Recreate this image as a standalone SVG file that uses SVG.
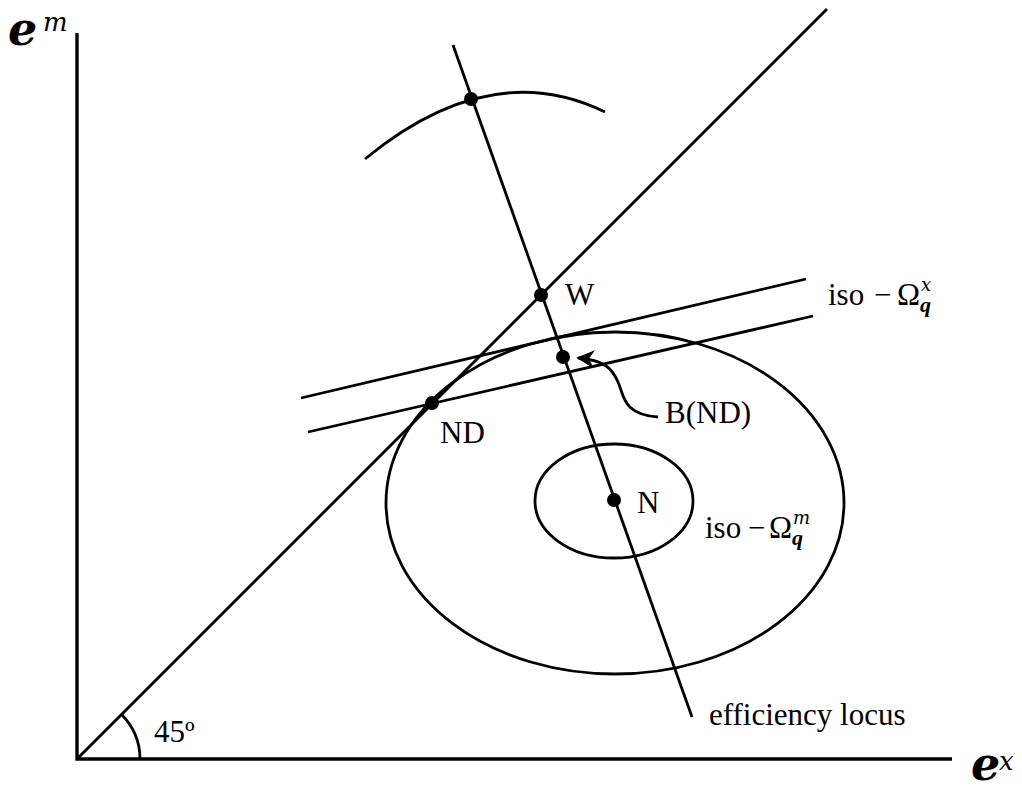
<svg xmlns="http://www.w3.org/2000/svg" width="1022" height="789" viewBox="0 0 1022 789">
<style>
  .ln{fill:none;stroke:#000;stroke-width:2.8;stroke-linecap:butt}
  .ax{fill:none;stroke:#000;stroke-width:3.4}
  .dot{fill:#000}
  .lbl{font-family:"Liberation Serif","Times New Roman",serif;font-size:31px;fill:#000}
  .mth{font-family:"DejaVu Serif","Liberation Serif",serif;font-weight:bold;font-style:italic;fill:#000}
  .sup{font-family:"DejaVu Serif","Liberation Serif",serif;font-style:italic;fill:#000}
  .sub{font-family:"Liberation Serif","Times New Roman",serif;font-weight:bold;font-style:italic;fill:#000}
</style>
<defs>
  <marker id="ah" viewBox="0 0 10 10" refX="9" refY="5" markerWidth="6.5" markerHeight="6.5" markerUnits="strokeWidth" orient="auto">
    <path d="M0,0 L10,5 L0,10 L3,5 Z" fill="#000"/>
  </marker>
</defs>
<rect width="1022" height="789" fill="#fff"/>

<g id="axes">
  <path class="ax" d="M77,33 V759 H952"/>
  <text class="mth" x="8" y="45" font-size="46">e</text>
  <text class="sup" x="43" y="31" font-size="26">m</text>
  <text class="mth" x="971" y="780" font-size="46">e</text>
  <text class="sup" x="999" y="770" font-size="26">x</text>
</g>

<g id="connectors">
  <path id="line45" class="ln" d="M77,759 L827,9"/>
  <path id="angle" class="ln" d="M140,759 A63,63 0 0 0 121.5,714.5"/>
  <path id="efficiency-locus" class="ln" d="M453,45 L692,717"/>
  <path id="upper-curve" class="ln" d="M365,159 Q490,56 605,112"/>
  <path id="iso-x-1" class="ln" d="M301,398 L806,279"/>
  <path id="iso-x-2" class="ln" d="M308,432 L813,316"/>
  <path id="bnd-arrow" class="ln" d="M658,417 C622,414 624,395 618,382 C612,368 604,360 578,358" marker-end="url(#ah)"/>
</g>

<g id="iso-m-outer">
  <ellipse class="ln" cx="615" cy="503" rx="229" ry="171"/>
</g>
<g id="iso-m-inner">
  <ellipse class="ln" cx="614" cy="501" rx="79" ry="57"/>
</g>

<g id="node-top"><circle class="dot" cx="471" cy="99" r="7"/></g>
<g id="node-W">
  <circle class="dot" cx="541" cy="295" r="7"/>
  <text class="lbl" x="565" y="305">W</text>
</g>
<g id="node-BND">
  <circle class="dot" cx="563" cy="357" r="7"/>
  <text class="lbl" x="665" y="423">B(ND)</text>
</g>
<g id="node-ND">
  <circle class="dot" cx="432" cy="403" r="7"/>
  <text class="lbl" x="440" y="443">ND</text>
</g>
<g id="node-N">
  <circle class="dot" cx="614" cy="500" r="7"/>
  <text class="lbl" x="637" y="513">N</text>
</g>

<g id="label-iso-x">
  <text class="lbl" x="828" y="305" font-size="34">iso</text>
  <text class="lbl" x="874" y="305" font-size="33">−</text>
  <text class="lbl" x="897" y="305" font-size="33">Ω</text>
  <text class="sup" x="921" y="291" font-size="18">x</text>
  <text class="sub" x="920" y="312" font-size="22">q</text>
</g>
<g id="label-iso-m">
  <text class="lbl" x="705" y="538" font-size="34">iso</text>
  <text class="lbl" x="748" y="538" font-size="33">−</text>
  <text class="lbl" x="769" y="538" font-size="33">Ω</text>
  <text class="sup" x="793" y="524" font-size="18">m</text>
  <text class="sub" x="792" y="545" font-size="22">q</text>
</g>
<g id="label-locus">
  <text class="lbl" x="709" y="725">efficiency locus</text>
</g>
<g id="label-45">
  <text class="lbl" x="154" y="742" font-size="21">45º</text>
</g>
</svg>
